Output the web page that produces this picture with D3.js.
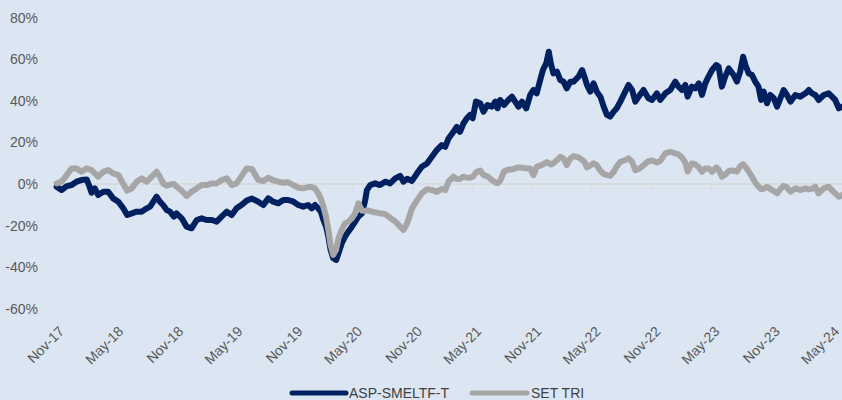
<!DOCTYPE html>
<html>
<head>
<meta charset="utf-8">
<script src="https://cdn.jsdelivr.net/npm/d3@7/dist/d3.min.js"></script>
<style>
  html, body { margin: 0; padding: 0; background: #dce6f2; }
  svg { display: block; }
  text { font-family: "Liberation Sans", Arial, Helvetica, sans-serif; }
</style>
</head>
<body>
<svg id="chart" width="842" height="400"></svg>
<script>
// Observation dates shared by both series
const obsDates = [
  "2017-11-06","2017-11-21","2017-12-07","2017-12-22","2018-01-06","2018-01-21","2018-02-06","2018-02-13","2018-02-21","2018-03-03",
  "2018-03-13","2018-03-29","2018-04-13","2018-04-28","2018-05-14","2018-05-29","2018-06-10","2018-06-24","2018-07-09","2018-07-24",
  "2018-08-09","2018-08-19","2018-08-29","2018-09-08","2018-09-18","2018-09-28","2018-10-09","2018-10-19","2018-10-31","2018-11-08",
  "2018-11-24","2018-12-09","2018-12-24","2019-01-09","2019-01-24","2019-02-08","2019-02-24","2019-03-11","2019-03-26","2019-04-11",
  "2019-04-26","2019-05-11","2019-05-27","2019-06-11","2019-06-27","2019-07-16","2019-08-01","2019-08-16","2019-08-31","2019-09-16",
  "2019-10-01","2019-10-16","2019-11-01","2019-11-16","2019-12-01","2019-12-16","2019-12-27","2020-01-06","2020-01-16","2020-01-24",
  "2020-02-01","2020-02-09","2020-02-16","2020-02-23","2020-03-02","2020-03-11","2020-03-18","2020-03-28","2020-04-07","2020-04-17",
  "2020-04-28","2020-05-08","2020-05-18","2020-05-29","2020-06-08","2020-06-13","2020-06-23","2020-07-08","2020-07-23","2020-08-08",
  "2020-08-23","2020-09-08","2020-09-23","2020-10-03","2020-10-14","2020-10-29","2020-11-13","2020-11-28","2020-12-14","2020-12-29",
  "2021-01-13","2021-01-28","2021-02-08","2021-02-18","2021-03-05","2021-03-15","2021-03-25","2021-04-05","2021-04-15","2021-04-25",
  "2021-05-03","2021-05-13","2021-05-26","2021-06-05","2021-06-17","2021-07-01","2021-07-11","2021-07-18","2021-07-26","2021-08-07",
  "2021-08-20","2021-08-31","2021-09-10","2021-09-20","2021-10-01","2021-10-14","2021-10-26","2021-11-05","2021-11-15","2021-11-23",
  "2021-12-04","2021-12-14","2021-12-22","2021-12-28","2022-01-05","2022-01-16","2022-01-26","2022-02-05","2022-02-15","2022-02-26",
  "2022-03-08","2022-03-23","2022-04-03","2022-04-10","2022-04-18","2022-04-28","2022-05-08","2022-05-18","2022-05-29","2022-06-08",
  "2022-06-18","2022-06-28","2022-07-09","2022-07-18","2022-07-29","2022-08-13","2022-08-23","2022-09-03","2022-09-13","2022-09-23",
  "2022-10-08","2022-10-23","2022-11-03","2022-11-18","2022-11-28","2022-12-14","2022-12-29","2023-01-13","2023-01-23","2023-02-03",
  "2023-02-13","2023-02-20","2023-03-05","2023-03-16","2023-03-26","2023-04-05","2023-04-15","2023-04-25","2023-05-06","2023-05-19",
  "2023-05-26","2023-06-05","2023-06-15","2023-06-26","2023-07-03","2023-07-11","2023-07-21","2023-07-31","2023-08-09","2023-08-16",
  "2023-08-26","2023-09-05","2023-09-15","2023-09-25","2023-10-03","2023-10-11","2023-10-21","2023-10-31","2023-11-11","2023-11-21",
  "2023-12-01","2023-12-11","2023-12-21","2024-01-01","2024-01-16","2024-01-31","2024-02-16","2024-02-26","2024-03-07","2024-03-17",
  "2024-03-27","2024-04-12","2024-04-27","2024-05-07","2024-05-17","2024-05-28","2024-06-08"
];

// Cumulative return, % — ASP-SMELTF-T
const aspValues = [
  -1.3,-2.9,-1.0,-0.5,1.1,1.9,2.2,-0.5,-4.2,-2.1,
  -5.3,-3.7,-3.7,-6.9,-8.5,-11.7,-14.9,-14.1,-13.3,-13.3,
  -11.7,-10.9,-8.5,-6.1,-8.5,-10.1,-12.5,-13.3,-15.7,-14.1,
  -16.5,-20.5,-21.3,-17.3,-16.5,-17.3,-17.3,-18.1,-15.7,-13.3,
  -14.9,-11.7,-10.0,-8.0,-7.0,-8.5,-10.1,-6.9,-8.5,-9.3,
  -7.7,-7.7,-8.5,-10.1,-10.9,-10.1,-11.7,-10.1,-11.7,-13.3,
  -17.3,-20.5,-25.3,-31.7,-35.7,-36.5,-33.3,-28.5,-25.3,-22.9,
  -20.5,-18.1,-15.7,-14.1,-7.7,-2.9,-0.5,0.3,-0.5,1.1,
  0.3,2.7,3.9,1.1,2.5,1.5,5.0,8.3,9.9,13.1,
  16.3,18.7,17.9,21.9,25.1,27.5,25.1,29.2,31.6,33.2,
  31.6,39.6,38.8,34.8,38.0,37.2,39.6,36.4,40.4,38.0,
  40.4,42.0,39.6,37.2,39.6,36.4,42.8,45.2,43.6,48.4,
  54.8,58.0,63.6,58.0,53.2,54.0,50.0,49.2,46.0,49.2,
  49.2,51.6,54.8,51.6,47.6,44.4,48.4,44.4,42.0,37.2,
  33.2,32.4,34.8,36.4,39.6,44.4,47.6,45.2,39.6,42.0,
  45.2,41.2,40.4,43.6,40.4,43.6,45.2,49.2,46.8,45.2,
  47.6,42.0,46.8,46.0,48.4,42.8,48.4,51.6,54.8,57.2,
  56.4,46.8,51.6,55.6,54.0,52.4,49.2,54.0,61.2,57.2,
  53.2,52.4,49.2,46.8,40.4,44.4,38.8,42.8,41.2,37.2,
  41.2,45.2,42.8,39.6,42.8,42.0,43.6,45.2,43.6,42.8,
  40.4,42.8,43.6,42.0,40.4,36.4,37.2
];

// Cumulative return, % — SET TRI
const setValues = [
  0.3,1.1,4.3,7.5,7.5,5.9,7.5,7.1,6.7,5.1,
  3.5,5.9,6.7,5.1,4.3,0.0,-3.2,-2.1,1.1,2.7,
  1.1,2.7,4.3,5.9,3.5,0.3,-0.8,-0.3,0.0,-1.3,
  -3.2,-5.8,-3.7,-2.1,-0.5,-0.5,0.3,0.3,1.9,2.7,
  -0.5,0.3,4.0,7.5,7.2,2.0,1.4,3.0,1.8,1.1,
  0.6,0.8,-0.5,-1.8,-2.1,-1.5,-1.5,-2.1,-4.5,-7.0,
  -11.0,-15.7,-22.1,-29.3,-34.1,-31.5,-26.1,-22.1,-18.9,-18.1,
  -16.5,-14.1,-9.3,-12.8,-13.0,-12.7,-13.0,-13.6,-14.1,-14.5,
  -16.2,-18.0,-20.5,-22.1,-19.0,-11.7,-8.0,-4.5,-2.5,-2.9,
  -3.8,-2.4,-2.9,1.1,3.5,2.4,2.5,3.5,3.0,3.0,
  3.4,5.5,6.5,4.3,3.7,1.8,0.8,0.4,1.5,6.0,
  7.0,7.0,7.5,8.0,7.8,7.5,7.5,4.3,8.3,8.7,
  9.4,10.5,10.0,9.4,10.0,11.5,13.1,12.3,9.1,12.3,
  13.4,12.8,11.6,10.7,8.0,8.8,10.0,9.0,6.3,4.8,
  4.3,3.9,5.9,8.5,10.7,11.5,12.3,10.7,6.7,7.2,
  9.0,11.0,11.3,10.3,11.0,14.7,15.5,14.7,14.2,12.7,
  10.3,6.0,9.9,9.4,8.0,5.9,7.5,7.5,5.9,8.0,
  7.0,3.5,4.5,6.2,6.5,6.4,5.9,8.5,9.5,8.3,
  6.0,3.5,0.8,-1.3,-2.5,-2.3,-1.3,-2.4,-3.4,-4.5,
  -2.4,-0.9,-1.6,-3.7,-2.1,-2.9,-2.1,-2.6,-2.3,-1.3,
  -4.5,-2.1,-1.3,-3.0,-4.5,-6.1,-5.3
];

const seriesNames = ["ASP-SMELTF-T", "SET TRI"];
const seriesColors = ["#002060", "#a6a6a6"];

// Axis ticks
const xTickDates = ["2017-11-01","2018-05-01","2018-11-01","2019-05-01","2019-11-01","2020-05-01",
  "2020-11-01","2021-05-01","2021-11-01","2022-05-01","2022-11-01","2023-05-01","2023-11-01","2024-05-01"];
const xTickLabels = ["Nov-17","May-18","Nov-18","May-19","Nov-19","May-20","Nov-20",
  "May-21","Nov-21","May-22","Nov-22","May-23","Nov-23","May-24"];
const yTicks = [-60, -40, -20, 0, 20, 40, 60, 80];

const parse = d3.timeParse("%Y-%m-%d");
const dates = obsDates.map(parse);
const tickDates = xTickDates.map(parse);

const svg = d3.select("#chart");
svg.append("rect").attr("width", 842).attr("height", 400).attr("fill", "#dce6f2");

const x = d3.scaleTime()
  .domain([tickDates[0], tickDates[tickDates.length - 1]])
  .range([55, 830]);
const y = d3.scaleLinear().domain([-60, 80]).range([308.8, 17.6]);

// Y axis labels
const yAxis = svg.append("g")
  .attr("transform", "translate(44,0)")
  .call(d3.axisLeft(y).tickValues(yTicks).tickFormat(d => d + "%").tickSize(0).tickPadding(6));
yAxis.select(".domain").remove();
yAxis.selectAll("text")
  .attr("fill", "#595959")
  .style("font-size", "14px")
  .style("font-family", "'Liberation Sans', Arial, sans-serif");

// Zero line with tick marks
svg.append("line")
  .attr("x1", 55).attr("x2", 842)
  .attr("y1", y(0)).attr("y2", y(0))
  .attr("stroke", "#d9d9d9").attr("stroke-width", 1.5);

const xAxis = svg.append("g")
  .attr("transform", `translate(0,${y(0)})`)
  .call(d3.axisBottom(x).tickValues(tickDates).tickSize(5).tickFormat(""));
xAxis.select(".domain").remove();
xAxis.selectAll(".tick line").attr("stroke", "#d9d9d9").attr("stroke-width", 1.5);

// Rotated date labels along the bottom
svg.append("g").selectAll("text")
  .data(tickDates)
  .join("text")
  .attr("transform", d => `translate(${x(d) + 3},325) rotate(-45)`)
  .attr("text-anchor", "end")
  .attr("dy", "0.72em")
  .attr("fill", "#595959")
  .style("font-size", "14px")
  .text((d, i) => xTickLabels[i]);

// Series lines
const line = d3.line()
  .x(d => x(d.date))
  .y(d => y(d.value));

[aspValues, setValues].forEach((vals, si) => {
  const pts = dates.map((d, i) => ({ date: d, value: vals[i] }));
  svg.append("path")
    .datum(pts)
    .attr("d", line)
    .attr("fill", "none")
    .attr("stroke", seriesColors[si])
    .attr("stroke-width", 6)
    .attr("stroke-linejoin", "round")
    .attr("stroke-linecap", "round");
});

// Legend
const legendPos = [{ x1: 292, x2: 346, tx: 349 }, { x1: 472, x2: 527, tx: 531 }];
const legend = svg.append("g");
seriesNames.forEach((name, i) => {
  const p = legendPos[i];
  legend.append("line")
    .attr("x1", p.x1).attr("x2", p.x2)
    .attr("y1", 393).attr("y2", 393)
    .attr("stroke", seriesColors[i])
    .attr("stroke-width", 5)
    .attr("stroke-linecap", "round");
  legend.append("text")
    .attr("x", p.tx).attr("y", 393)
    .attr("dy", "0.36em")
    .attr("fill", "#404040")
    .style("font-size", "14px")
    .text(name);
});
</script>
</body>
</html>
